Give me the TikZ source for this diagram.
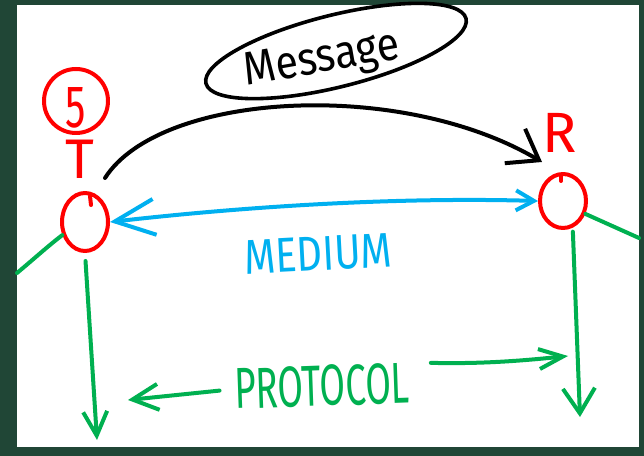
\documentclass[tikz,border=0pt]{standalone}
\usepackage{fontspec}
\setmainfont{Fira Sans}
\usetikzlibrary{arrows.meta,shapes.geometric,calc}
\definecolor{bgdark}{RGB}{32,70,54}
\definecolor{penred}{RGB}{255,0,0}
\definecolor{penblue}{RGB}{0,176,240}
\definecolor{pengreen}{RGB}{0,176,80}
\tikzset{
  pen/.style={line width=4bp, line cap=round, line join=round},
  redring/.style={draw=penred, pen, ellipse, inner sep=0pt},
  msgring/.style={draw=black, line width=3.6bp, ellipse, inner sep=0pt},
  handtext/.style={inner sep=0pt, outer sep=0pt},
  blackpen/.style={pen, draw=black},
  bluepen/.style={pen, draw=penblue},
  greenpen/.style={pen, draw=pengreen},
  bigbarb/.style={-{Straight Barb[length=28bp,width=40bp]}},
}
\begin{document}
\begin{tikzpicture}[x=1bp,y=-1bp]
\fill[bgdark] (0,0) rectangle (644,456);
\fill[white] (17,5) rectangle (639,447);
\useasboundingbox (0,0) rectangle (644,456);

% message
\node[msgring, rotate=14, minimum width=268bp, minimum height=72bp] (msgbox) at (336,51) {};
\node[handtext, rotate=10, font=\fontsize{47}{47}\selectfont] (msgtext) at (322,61) {\scalebox{0.88}[1]{Message}};

% sender
\node[redring, minimum width=64bp, minimum height=64bp] (S) at (76,101) {};
\node[handtext, text=penred, font=\fontsize{60}{60}\selectfont] (five) at (76,108) {\scalebox{0.68}[1]{5}};
\node[handtext, text=penred, font=\fontsize{56}{56}\selectfont] (Tl) at (80,159) {T};
\node[redring, minimum width=46bp, minimum height=58bp] (T) at (85,222) {};
\draw[pen, draw=penred] ($(T.north)+(5,5)$) -- ++(1,9);

% receiver
\node[handtext, text=penred, font=\fontsize{57}{57}\selectfont] (Rl) at (560,133) {R};
\node[redring, minimum width=46bp, minimum height=54bp] (R) at (563,201) {};
\draw[pen, draw=penred] ($(R.north)+(-2,4)$) -- ++(0,5);

% labels
\node[handtext, text=penblue, rotate=3, font=\fontsize{49}{49}\selectfont] (medium) at (318,254) {\scalebox{0.82}[1]{MEDIUM}};
\node[handtext, text=pengreen, rotate=2, font=\fontsize{58}{58}\selectfont] (protocol) at (322,386) {\scalebox{0.64}[1]{PROTOCOL}};

% coordinates
\coordinate (arcS) at (105,178);
\coordinate (arcR) at (542,162);
\coordinate (gl0) at (17,273);
\coordinate (gr0) at (639,238);
\coordinate (tdown) at (97,440);
\coordinate (rdown) at (580,417);
\coordinate (pleft) at (128,400);
\coordinate (pright) at (568,356);

% black message arc
\draw[blackpen, bigbarb] (arcS) .. controls (160,92) and (400,78) .. (arcR);

% medium
\draw[bluepen, {Straight Barb[length=40bp,width=36bp]}-{Straight Barb[length=18bp,width=20bp]}]
  (T.east) .. controls (250,206) and (400,197) .. (R.west);

% green lines
\draw[greenpen] (gl0) .. controls (35,258) and (48,246) .. (T.210);
\draw[greenpen] (R.-30) -- (gr0);
\draw[greenpen, -{Straight Barb[length=24bp,width=24bp]}, shorten <=8bp] (T.south) -- (tdown);
\draw[greenpen, -{Straight Barb[length=25bp,width=32bp]}, shorten <=4bp] (R.-70) -- (rdown);
\draw[greenpen, -{Straight Barb[length=26bp,width=26bp]}, shorten <=15bp] (protocol.west) -- (pleft);
\draw[greenpen, -{Straight Barb[length=24bp,width=20bp]}, shorten <=22bp] (protocol.north east) .. controls (480,364) and (520,361) .. (pright);
\end{tikzpicture}
\end{document}
